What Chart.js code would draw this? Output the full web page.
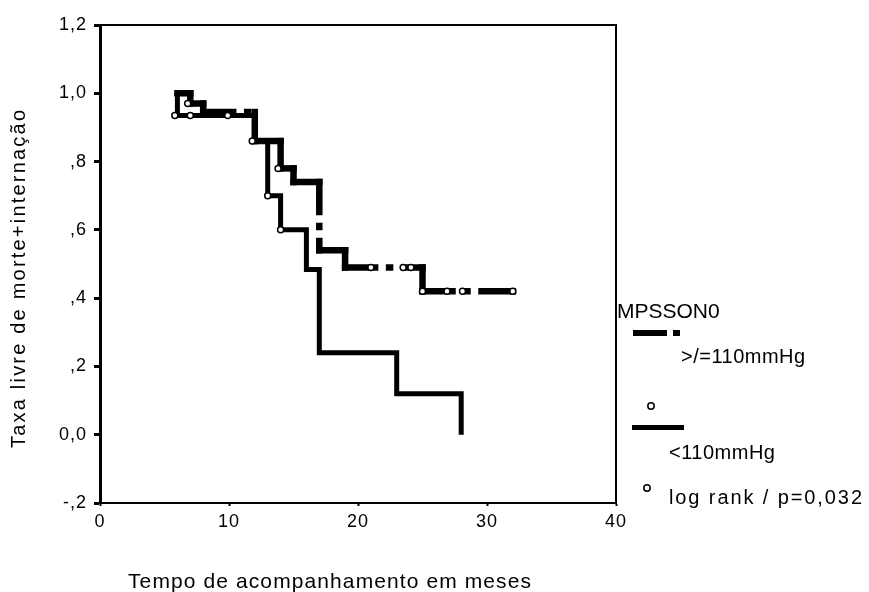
<!DOCTYPE html>
<html>
<head>
<meta charset="utf-8">
<script src="https://cdn.jsdelivr.net/npm/chart.js@4.4.1/dist/chart.umd.min.js"></script>
<style>
  html, body { margin: 0; padding: 0; background: #fff; }
  #wrap { width: 869px; height: 592px; }
</style>
</head>
<body>
<div id="wrap"><canvas id="km" width="869" height="592"></canvas></div>
<script>
// Kaplan-Meier steps (months, survival)
const highTimes = [6, 7, 8, 12, 14, 15, 17, 19, 25, 32];
const highSurv  = [1.0, 0.97, 0.945, 0.86, 0.78, 0.74, 0.54, 0.49, 0.42, 0.42];
const highCensorT = [6.8, 13.8, 21, 23.5, 24.1, 25, 26.9, 28.1, 32];
const highCensorS = [0.97, 0.78, 0.49, 0.49, 0.49, 0.42, 0.42, 0.42, 0.42];

const lowTimes = [6, 6, 12, 13, 14, 16, 17, 23, 28];
const lowSurv  = [1.0, 0.935, 0.86, 0.70, 0.60, 0.484, 0.24, 0.12, 0.0];
const lowCensorT = [5.8, 7.0, 9.9, 11.8, 13, 14];
const lowCensorS = [0.935, 0.935, 0.935, 0.86, 0.70, 0.60];

const xTickStep = 10;
const yTickLabels = ['-,2', '0,0', ',2', ',4', ',6', ',8', '1,0', '1,2'];

const FONT = '"Liberation Sans", Arial, sans-serif';

// corner points of a KM step curve: every piece is its own straight segment
function kmPath(times, surv) {
    const pts = [{ x: times[0], y: surv[0] }];
    for (let i = 1; i < times.length; i++) {
        pts.push({ x: times[i], y: surv[i - 1] });
        pts.push({ x: times[i], y: surv[i] });
    }
    return pts;
}

function pairs(xs, ys) {
    return xs.map((x, i) => ({ x, y: ys[i] }));
}

// spread text out to a given width (the original has loose letter spacing)
function fitText(ctx, text, x, y, width) {
    ctx.letterSpacing = '0px';
    const w = ctx.measureText(text).width;
    const ls = Math.max(0, (width - w) / (text.length - 1));
    ctx.letterSpacing = ls + 'px';
    ctx.fillText(text, x, y);
    ctx.letterSpacing = '0px';
}

function spacedText(ctx, text, x, y, ls) {
    ctx.letterSpacing = ls + 'px';
    ctx.fillText(text, x, y);
    ctx.letterSpacing = '0px';
}

const framePlugin = {
    id: 'frame',
    beforeDraw(chart) {
        chart.ctx.letterSpacing = '1px';
    },
    afterDraw(chart) {
        const { ctx, chartArea: a } = chart;
        ctx.save();
        ctx.letterSpacing = '0px';
        ctx.strokeStyle = '#000';
        ctx.lineWidth = 2;
        ctx.beginPath();
        ctx.moveTo(a.left, a.top);
        ctx.lineTo(a.right, a.top);
        ctx.lineTo(a.right, a.bottom);
        ctx.stroke();

        ctx.fillStyle = '#000';
        ctx.textAlign = 'left';
        ctx.textBaseline = 'alphabetic';

        // axis titles
        ctx.font = '21px ' + FONT;
        fitText(ctx, 'Tempo de acompanhamento em meses', 128, 588, 403);
        ctx.save();
        ctx.translate(25, 279);
        ctx.rotate(-Math.PI / 2);
        ctx.font = '20px ' + FONT;
        fitText(ctx, 'Taxa livre de morte+internação', -169, 0, 338);
        ctx.restore();

        // legend
        ctx.font = '21px ' + FONT;
        spacedText(ctx, 'MPSSON0', 617, 318, 0);
        ctx.fillRect(633, 330, 34, 6);
        ctx.fillRect(673, 330, 7, 6);
        ctx.font = '20px ' + FONT;
        spacedText(ctx, '>/=110mmHg', 681, 363, 0.5);

        ctx.lineWidth = 1.5;
        ctx.beginPath();
        ctx.arc(651, 406, 3.2, 0, Math.PI * 2);
        ctx.stroke();
        ctx.fillRect(632, 425, 52, 5);
        spacedText(ctx, '<110mmHg', 669, 459, 0.5);

        ctx.beginPath();
        ctx.arc(647, 488, 3.2, 0, Math.PI * 2);
        ctx.stroke();
        fitText(ctx, 'log rank / p=0,032', 669, 504, 193);
        ctx.restore();
    }
};

Chart.defaults.font.family = FONT;
Chart.defaults.color = '#000';

new Chart(document.getElementById('km'), {
    type: 'line',
    data: {
        datasets: [
            {
                label: 'censored >/=110mmHg',
                data: pairs(highCensorT, highCensorS),
                showLine: false,
                pointRadius: 3,
                pointBorderWidth: 1.5,
                pointBackgroundColor: '#fff',
                pointBorderColor: '#000'
            },
            {
                label: 'censored <110mmHg',
                data: pairs(lowCensorT, lowCensorS),
                showLine: false,
                pointRadius: 3,
                pointBorderWidth: 1.5,
                pointBackgroundColor: '#fff',
                pointBorderColor: '#000'
            },
            {
                label: '>/=110mmHg',
                data: kmPath(highTimes, highSurv),
                borderColor: '#000',
                borderWidth: 6.5,
                pointRadius: 0,
                borderCapStyle: 'square',
                borderDash: [30, 14, 1, 14],
                // restart the dash pattern on every piece of the step line
                segment: { borderDashOffset: c => (c.p0DataIndex % 2 ? 0.01 : 0) }
            },
            {
                label: '<110mmHg',
                data: kmPath(lowTimes, lowSurv),
                borderColor: '#000',
                borderWidth: 5,
                pointRadius: 0,
                borderJoinStyle: 'miter'
            }
        ]
    },
    options: {
        responsive: false,
        animation: false,
        layout: { padding: { top: 25, right: 253, left: 0, bottom: 0 } },
        plugins: { legend: { display: false }, tooltip: { enabled: false } },
        scales: {
            x: {
                type: 'linear',
                min: 0,
                max: 40,
                ticks: { stepSize: xTickStep, font: { size: 18 }, padding: 5, maxRotation: 0 },
                grid: { drawOnChartArea: false, tickLength: 3, tickWidth: 2, tickColor: '#000' },
                border: { color: '#000', width: 2 },
                afterFit: s => { s.height = 89; }
            },
            y: {
                type: 'linear',
                min: -0.2,
                max: 1.2,
                ticks: { stepSize: 0.2, font: { size: 18 }, padding: 7, callback: (v, i) => yTickLabels[i] },
                grid: { drawOnChartArea: false, tickLength: 6, tickWidth: 3, tickColor: '#000' },
                border: { color: '#000', width: 3 },
                afterFit: s => { s.width = 100; }
            }
        }
    },
    plugins: [framePlugin]
});
</script>
</body>
</html>
